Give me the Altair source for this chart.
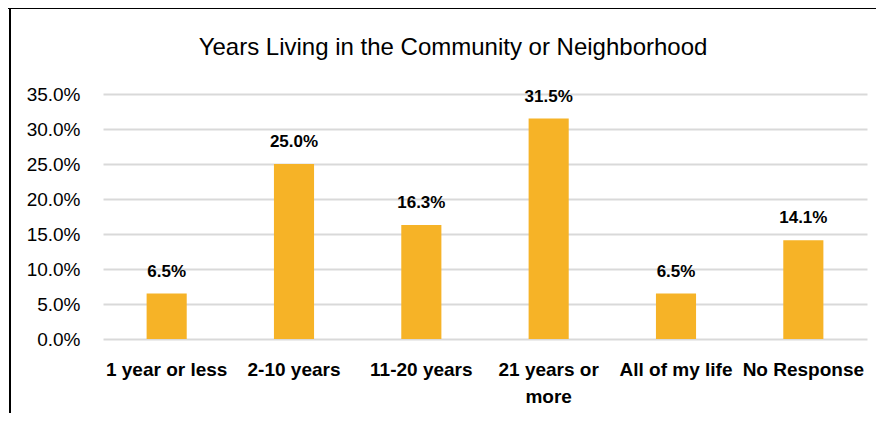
import altair as alt
import pandas as pd

categories = ["1 year or less", "2-10 years", "11-20 years", "21 years or more", "All of my life", "No Response"]
values = [6.5, 25.0, 16.3, 31.5, 6.5, 14.1]
y_ticks = [0, 5, 10, 15, 20, 25, 30, 35]

df = pd.DataFrame({"category": categories, "value": values})
FONT = "Liberation Sans"
BAR = "#F6B327"
W, H = 764, 245

x = alt.X("category:N", sort=categories, title=None,
          scale=alt.Scale(paddingInner=0.685, paddingOuter=0.3425),
          axis=alt.Axis(labelAngle=0, labelFont=FONT, labelFontSize=19, labelFontWeight="bold",
                        labelColor="#000000", labelPadding=21, labelLimit=300, labelLineHeight=27,
                        domain=False, ticks=False, labelOverlap=False,
                        labelExpr="datum.label == '21 years or more' ? ['21 years or', 'more'] : datum.label"))
y = alt.Y("value:Q", title=None,
          scale=alt.Scale(domain=[0, 35], nice=False),
          axis=alt.Axis(values=y_ticks, labelFont=FONT, labelFontSize=19, labelColor="#000000",
                        labelPadding=23, domain=False, ticks=False, grid=True, labelOverlap=False,
                        gridColor="#D9D9D9", gridWidth=2,
                        labelExpr="format(datum.value, '.1f') + '%'"))

base = alt.Chart(df)
bars = base.mark_bar(color=BAR).encode(x=x, y=y)
labels = base.transform_calculate(lab="format(datum.value, '.1f') + '%'").mark_text(
    font=FONT, fontSize=17, fontWeight="bold", color="#000000", baseline="bottom", dy=-13
).encode(x=x, y=y, text="lab:N")

one = pd.DataFrame({"a": [0]})
top_line = alt.Chart(one).mark_rule(color="#000000", strokeWidth=2).encode(
    x=alt.value(-96), x2=alt.value(W + 10), y=alt.value(-86))
left_line = alt.Chart(one).mark_rule(color="#000000", strokeWidth=2).encode(
    x=alt.value(-93), y=alt.value(-87), y2=alt.value(H + 74))

chart = alt.layer(bars, labels, top_line, left_line).properties(
    width=W, height=H,
    title=alt.TitleParams("Years Living in the Community or Neighborhood", font=FONT, fontSize=24,
                          fontWeight="normal", color="#000000", anchor="middle", dx=-32,
                          frame="group", baseline="alphabetic", offset=0, dy=73),
    autosize=alt.AutoSizeParams(type="none"),
    padding={"left": 95, "top": 86, "right": 9, "bottom": 74},
).configure(background="#FFFFFF").configure_view(strokeWidth=0, stroke="transparent")

chart.save("out.html", embed_options={"renderer": "svg", "actions": False})
